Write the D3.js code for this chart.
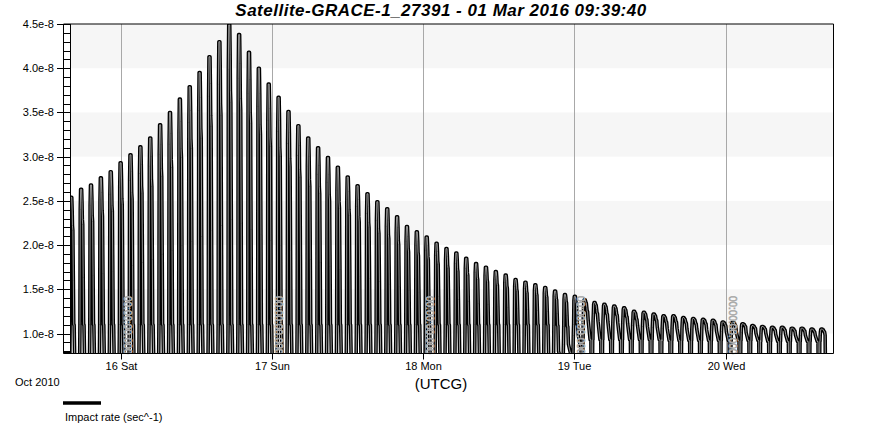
<!DOCTYPE html>
<html><head><meta charset="utf-8">
<script src="https://cdn.jsdelivr.net/npm/d3@7"></script>
<style>body{margin:0;background:#fff}</style>
</head><body><svg id="c" width="877" height="424"></svg>
<script>
const UNIT = 1e-8;
const title = "Satellite-GRACE-1_27391 - 01 Mar 2016 09:39:40";
const seriesName = "Impact rate (sec^-1)";
const yTickValues = [1.0, 1.5, 2.0, 2.5, 3.0, 3.5, 4.0, 4.5];
const yMinorStep = 0.1;
const dayTicks = ["2010-10-16T00:00:00Z","2010-10-17T00:00:00Z","2010-10-18T00:00:00Z","2010-10-19T00:00:00Z","2010-10-20T00:00:00Z"];
const dayLabels = ["16 Sat","17 Sun","18 Mon","19 Tue","20 Wed"];
const monthLabel = "Oct 2010";
const axisTitle = "(UTCG)";
const dayStamp = "00:00:00.000";
const viewStart = "2010-10-15T15:54:00Z";
const viewEnd = "2010-10-20T17:08:00Z";
const dataStart = "2010-10-15T15:50:00Z";
const dataEnd = "2010-10-20T15:52:00Z";
const orbitMinutes = 94.07;
const yMin = 0.774, yMax = 4.5;

// per-orbit peak impact rate (×1e-8)
const peaks = [2.54,2.63,2.68,2.76,2.83,2.93,3.02,3.11,3.21,3.36,
  3.50,3.65,3.79,3.95,4.13,4.30,4.49,4.38,4.18,4.00,
  3.82,3.67,3.51,3.35,3.21,3.10,2.99,2.88,2.77,2.67,
  2.58,2.49,2.41,2.32,2.21,2.15,2.09,2.02,1.96,1.91,
  1.85,1.79,1.75,1.70,1.66,1.61,1.58,1.55,1.52,1.48,
  1.44,1.42,1.38,1.35,1.33,1.31,1.29,1.25,1.24,1.22,
  1.20,1.20,1.18,1.17,1.16,1.15,1.13,1.13,1.11,1.09,
  1.08,1.07,1.07,1.06,1.06,1.05,1.05];
// per-orbit knee level on the falling side (×1e-8)
const knees = [1.10,1.10,1.10,1.10,1.10,1.10,1.10,1.10,1.10,1.10,
  1.10,1.10,1.10,1.10,1.10,1.10,1.10,1.10,1.10,1.10,
  1.10,1.10,1.10,1.10,1.10,1.10,1.10,1.10,1.10,1.10,
  1.10,1.10,1.10,1.10,1.10,1.10,1.10,1.10,1.10,1.10,
  1.10,1.10,1.10,1.10,1.10,1.10,1.10,1.10,1.10,1.09,
  1.08,1.10,1.25,1.23,1.22,1.21,1.19,1.16,1.16,1.15,
  1.13,1.13,1.12,1.11,1.11,1.10,1.09,1.09,1.08,1.06,
  1.05,1.04,1.04,1.03,1.03,1.02,1.02];
// per-orbit shoulder level after the spike (×1e-8)
const floors = [0.70,0.70,0.70,0.70,0.70,0.70,0.70,0.70,0.70,0.70,
  0.70,0.70,0.70,0.70,0.70,0.70,0.70,0.70,0.70,0.70,
  0.70,0.70,0.70,0.70,0.70,0.70,0.70,0.70,0.70,0.70,
  0.70,0.70,0.70,0.70,0.70,0.70,0.70,0.70,0.70,0.70,
  0.70,0.70,0.70,0.70,0.70,0.70,0.72,0.74,0.76,0.80,
  0.88,0.98,1.15,1.14,1.13,1.12,1.11,1.09,1.08,1.07,
  1.06,1.06,1.05,1.05,1.04,1.03,1.02,1.02,1.01,1.00,
  1.00,0.99,0.99,0.98,0.98,0.98,0.98];
// per-orbit valley level before the eclipse dip (×1e-8)
const valleys = [0.60,0.60,0.60,0.60,0.60,0.60,0.60,0.60,0.60,0.60,
  0.60,0.60,0.60,0.60,0.60,0.60,0.60,0.60,0.60,0.60,
  0.60,0.60,0.60,0.60,0.60,0.60,0.60,0.60,0.60,0.60,
  0.60,0.60,0.60,0.60,0.60,0.60,0.60,0.60,0.60,0.60,
  0.60,0.60,0.60,0.60,0.60,0.60,0.62,0.65,0.68,0.72,
  0.78,0.86,0.93,0.93,0.93,0.93,0.93,0.93,0.93,0.93,
  0.92,0.92,0.92,0.92,0.92,0.92,0.92,0.92,0.92,0.92,
  0.91,0.91,0.91,0.91,0.91,0.91,0.91];
const deepLevel = 0.5;
// shape of one orbit: [phase, level]; a number = fraction between knee and peak
const orbitShape = [[0.00,'V'],[0.02,'F'],[0.05,'K'],[0.08,0.85],[0.12,1.0],[0.22,1.0],
  [0.26,0.9],[0.29,0.78],[0.33,0.74],[0.38,0.35],[0.42,'K'],[0.46,'K'],[0.52,'F'],
  [0.72,'V'],[0.80,'V'],[0.83,'D'],[0.95,'D'],[0.98,'V']];

const svg = d3.select("#c");
const W = 877, H = 424;
const frame = {l: 63.5, r: 833.5, t: 24, b: 353.5};
const plotL = 70;
const FONT = "Liberation Sans, Arial, sans-serif";

const x = d3.scaleUtc().domain([new Date(viewStart), new Date(viewEnd)]).range([plotL, frame.r]);
const y = d3.scaleLinear().domain([yMin*UNIT, yMax*UNIT]).range([frame.b, frame.t]);

svg.append("rect").attr("width", W).attr("height", H).attr("fill", "#fff");

// bands
const bandEdges = [yMax, ...yTickValues.slice().reverse().slice(1), yMin];
for (let i = 0; i < bandEdges.length - 1; i++) {
  if (i % 2 === 0) {
    const y1 = y(bandEdges[i]*UNIT), y2 = y(bandEdges[i+1]*UNIT);
    svg.append("rect").attr("x", plotL).attr("y", y1).attr("width", frame.r - plotL).attr("height", y2 - y1).attr("fill", "#f6f6f6");
  }
}

// vertical day grid
svg.append("g").selectAll("line").data(dayTicks).join("line")
  .attr("x1", d => Math.round(x(new Date(d))) + 0.5).attr("x2", d => Math.round(x(new Date(d))) + 0.5)
  .attr("y1", frame.t).attr("y2", frame.b).attr("stroke", "#a8a8a8").attr("stroke-width", 1);

// data
const P = orbitMinutes * 60000;
const t0 = +new Date(dataStart), tEnd = +new Date(dataEnd);
const pts = [];
for (let k = 0; k < peaks.length; k++) {
  for (const [ph, lv] of orbitShape) {
    const t = t0 + (k + ph) * P;
    if (t > tEnd) break;
    let v;
    if (lv === 'D') v = deepLevel;
    else if (lv === 'V') v = valleys[k];
    else if (lv === 'F') v = floors[k];
    else if (lv === 'K') v = knees[k];
    else v = knees[k] + lv * (peaks[k] - knees[k]);
    pts.push([t, v]);
  }
}
pts.push([tEnd, deepLevel]);

svg.append("clipPath").attr("id", "clip").append("rect")
  .attr("x", plotL).attr("y", frame.t).attr("width", frame.r - plotL).attr("height", frame.b - frame.t);
const line = d3.line().x(d => x(new Date(d[0]))).y(d => y(d[1]*UNIT));
const g = svg.append("g").attr("clip-path", "url(#clip)");
g.append("path").attr("d", line(pts)).attr("fill", "none").attr("stroke", "#000")
  .attr("stroke-width", 3.6).attr("stroke-linejoin", "round");
g.append("path").attr("d", line(pts)).attr("fill", "none").attr("stroke", "#bdbdbd")
  .attr("stroke-width", 0.8).attr("stroke-linejoin", "round");

// day stamps (vertical gray text)
svg.append("g").selectAll("text").data(dayTicks).join("text")
  .attr("transform", d => `translate(${Math.round(x(new Date(d))) + 2},296) rotate(90)`)
  .attr("font-family", FONT).attr("font-size", 10)
  .attr("fill", "#fff").attr("stroke", "#a0a0a0").attr("stroke-width", 0.6)
  .attr("dy", "-0.1em").text(dayStamp);

// frame
svg.append("path").attr("d", `M${frame.l},${frame.t}H${frame.r}V${frame.b}H${frame.l}Z`)
  .attr("fill", "none").attr("stroke", "#000").attr("stroke-width", 1);
svg.append("line").attr("x1", plotL + 0.5).attr("x2", plotL + 0.5).attr("y1", frame.t).attr("y2", frame.b).attr("stroke", "#000");

// y minor ladder
const minor = d3.range(Math.ceil(yMin / yMinorStep), Math.floor(yMax / yMinorStep + 1e-6) + 1).map(i => i * yMinorStep);
svg.append("g").selectAll("line").data(minor).join("line")
  .attr("x1", frame.l).attr("x2", plotL)
  .attr("y1", d => Math.round(y(d*UNIT)) + 0.5).attr("y2", d => Math.round(y(d*UNIT)) + 0.5)
  .attr("stroke", "#000");
svg.append("line").attr("x1", frame.l).attr("x2", plotL).attr("y1", frame.b - 1).attr("y2", frame.b - 1).attr("stroke", "#000").attr("stroke-width", 2);

// y axis major ticks & labels
const fmt = d3.format(".1e");
const yg = svg.append("g").attr("font-family", FONT).attr("font-size", 11);
yTickValues.forEach(v => {
  const yy = Math.round(y(v*UNIT)) + 0.5;
  yg.append("line").attr("x1", 57).attr("x2", frame.l).attr("y1", yy).attr("y2", yy).attr("stroke", "#000");
  yg.append("text").attr("x", 54).attr("y", yy).attr("dy", "0.35em").attr("text-anchor", "end").text(fmt(v*UNIT));
});

// x axis ticks & labels
const xg = svg.append("g").attr("font-family", FONT).attr("font-size", 11);
dayTicks.forEach((d, i) => {
  const xx = Math.round(x(new Date(d))) + 0.5;
  xg.append("line").attr("x1", xx).attr("x2", xx).attr("y1", frame.b).attr("y2", frame.b + 6).attr("stroke", "#000");
  xg.append("text").attr("x", xx).attr("y", 370).attr("text-anchor", "middle").text(dayLabels[i]);
});
xg.append("text").attr("x", 15).attr("y", 386).text(monthLabel);
svg.append("text").attr("x", 441).attr("y", 389).attr("text-anchor", "middle")
  .attr("font-family", FONT).attr("font-size", 15).text(axisTitle);

// title
svg.append("text").attr("x", 441).attr("y", 16).attr("text-anchor", "middle")
  .attr("font-family", FONT).attr("font-size", 17).attr("letter-spacing", 0.5)
  .attr("font-weight", "bold").attr("font-style", "italic").text(title);

// legend
svg.append("line").attr("x1", 63).attr("x2", 101).attr("y1", 403).attr("y2", 403).attr("stroke", "#000").attr("stroke-width", 3.5);
svg.append("text").attr("x", 65).attr("y", 421).attr("font-family", FONT)
  .attr("font-size", 11).text(seriesName);
</script></body></html>
